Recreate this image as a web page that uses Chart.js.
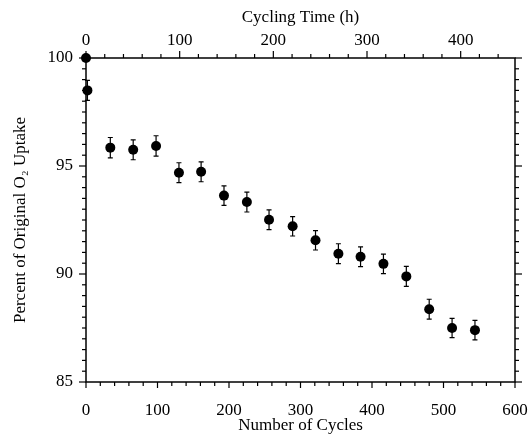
<!DOCTYPE html>
<html>
<head>
<meta charset="utf-8">
<script src="https://cdn.jsdelivr.net/npm/chart.js@4"></script>
<style>
  html, body { margin: 0; padding: 0; background: #fff; }
  #wrap { width: 531px; height: 437px; }
</style>
</head>
<body>
<div id="wrap"><canvas id="uptakeChart" width="531" height="437"></canvas></div>
<script>
// ==========================================
// O2 UPTAKE vs CYCLING (scatter + error bars)
// ==========================================

const cycles = [0, 2, 34, 66, 98, 130, 161, 193, 225, 256, 289, 321, 353, 384, 416, 448, 480, 512, 544];
const uptake = [100, 98.5, 95.85, 95.75, 95.93, 94.69, 94.73, 93.63, 93.33, 92.51, 92.21, 91.56, 90.94, 90.8, 90.47, 89.89, 88.37, 87.5, 87.4];
const uptakeErr = [0, 0.46, 0.47, 0.46, 0.47, 0.46, 0.46, 0.45, 0.46, 0.46, 0.45, 0.45, 0.46, 0.46, 0.45, 0.46, 0.46, 0.45, 0.45];

// axis ranges and tick steps
const cycleRange = [0, 600];
const hourRange = [0, 458];
const uptakeRange = [85, 100];
const cycleSteps = { major: 100, minor: 20 };
const hourSteps = { major: 100, minor: 20 };
const uptakeSteps = { major: 5, minor: 0.5 };

const FONT = 'Liberation Serif, Times New Roman, serif';

// minor + major tick marks, drawn outward on all four sides
const frameTicks = {
  id: 'frameTicks',
  afterDatasetsDraw(chart) {
    const { ctx, chartArea: a, scales } = chart;
    ctx.save();
    ctx.strokeStyle = '#000';
    ctx.lineWidth = 1.5;
    ctx.strokeRect(a.left, a.top, a.right - a.left, a.bottom - a.top);
    ctx.lineWidth = 1.2;

    const eps = 1e-6;
    function isMajor(v, step) {
      const r = Math.abs(v / step - Math.round(v / step));
      return r < eps;
    }
    // bottom axis (cycles)
    for (let v = cycleRange[0]; v <= cycleRange[1] + eps; v += cycleSteps.minor) {
      const x = scales.x.getPixelForValue(v);
      const len = isMajor(v, cycleSteps.major) ? 6 : 4;
      ctx.beginPath(); ctx.moveTo(x, a.bottom); ctx.lineTo(x, a.bottom + len); ctx.stroke();
    }
    // top axis (hours)
    for (let v = hourRange[0]; v <= hourRange[1] + eps; v += hourSteps.minor) {
      const x = scales.x2.getPixelForValue(v);
      const len = isMajor(v, hourSteps.major) ? 7 : 4;
      ctx.beginPath(); ctx.moveTo(x, a.top); ctx.lineTo(x, a.top - len); ctx.stroke();
    }
    // left and right axes (percent)
    for (let v = uptakeRange[0]; v <= uptakeRange[1] + eps; v += uptakeSteps.minor) {
      const y = scales.y.getPixelForValue(v);
      const len = isMajor(v, uptakeSteps.major) ? 7 : 4;
      ctx.beginPath(); ctx.moveTo(a.left, y); ctx.lineTo(a.left - len, y); ctx.stroke();
      ctx.beginPath(); ctx.moveTo(a.right, y); ctx.lineTo(a.right + len, y); ctx.stroke();
    }
    ctx.restore();
  },
};

// vertical error bars with small caps
const errorBars = {
  id: 'errorBars',
  beforeDatasetsDraw(chart) {
    const { ctx, scales } = chart;
    ctx.save();
    ctx.strokeStyle = '#000';
    ctx.lineWidth = 1.2;
    cycles.forEach(function (c, i) {
      const e = uptakeErr[i];
      if (!e) return;
      const x = scales.x.getPixelForValue(c);
      const yTop = scales.y.getPixelForValue(uptake[i] + e);
      const yBot = scales.y.getPixelForValue(uptake[i] - e);
      ctx.beginPath();
      ctx.moveTo(x, yTop); ctx.lineTo(x, yBot);
      ctx.moveTo(x - 2.5, yTop); ctx.lineTo(x + 2.5, yTop);
      ctx.moveTo(x - 2.5, yBot); ctx.lineTo(x + 2.5, yBot);
      ctx.stroke();
    });
    ctx.restore();
  },
};

const uptakeData = {
  datasets: [
    {
      label: 'Percent of Original O2 Uptake',
      data: cycles.map(function (c, i) { return { x: c, y: uptake[i] }; }),
      backgroundColor: '#000',
      borderColor: '#000',
      borderWidth: 0,
      pointRadius: 5,
      pointHoverRadius: 5,
      clip: false,
    },
  ],
};

const tickFont = { family: FONT, size: 17 };
const titleFont = { family: FONT, size: 17 };

// keep the layout from growing extra room for end labels
function noOverhang(scale) {
  scale.paddingLeft = 0;
  scale.paddingRight = 0;
  scale.paddingTop = 0;
  scale.paddingBottom = 0;
}

const uptakeConfig = {
  type: 'scatter',
  data: uptakeData,
  options: {
    responsive: false,
    animation: false,
    layout: { padding: { left: 0, right: 16, top: 0, bottom: 0 } },
    plugins: {
      legend: { display: false },
      tooltip: { enabled: false },
    },
    scales: {
      x: {
        type: 'linear',
        position: 'bottom',
        min: cycleRange[0],
        max: cycleRange[1],
        grid: { display: false, drawTicks: false },
        border: { display: false },
        ticks: { stepSize: cycleSteps.major, color: '#000', font: tickFont, padding: 18, maxRotation: 0 },
        title: { display: true, text: 'Number of Cycles', color: '#000', font: titleFont, padding: { top: 0, bottom: 1 } },
        afterFit: function (scale) { scale.height = 55; noOverhang(scale); },
      },
      x2: {
        type: 'linear',
        position: 'top',
        min: hourRange[0],
        max: hourRange[1],
        grid: { display: false, drawTicks: false },
        border: { display: false },
        ticks: { stepSize: hourSteps.major, color: '#000', font: tickFont, padding: 7, maxRotation: 0 },
        title: { display: true, text: 'Cycling Time (h)', color: '#000', font: titleFont, padding: { top: 7, bottom: 0 } },
        afterBuildTicks: function (scale) {
          scale.ticks = scale.ticks.filter(function (t) { return t.value % hourSteps.major === 0; });
        },
        afterFit: function (scale) { scale.height = 58; noOverhang(scale); },
      },
      y: {
        type: 'linear',
        position: 'left',
        min: uptakeRange[0],
        max: uptakeRange[1],
        grid: { display: false, drawTicks: false },
        border: { display: false },
        ticks: { stepSize: uptakeSteps.major, color: '#000', font: tickFont, padding: 13 },
        title: { display: true, text: 'Percent of Original O\u2082 Uptake', color: '#000', font: titleFont, padding: { top: 10, bottom: 0 } },
        afterFit: function (scale) { scale.width = 86; noOverhang(scale); },
      },
    },
  },
  plugins: [errorBars, frameTicks],
};

const uptakeChart = new Chart(
  document.getElementById('uptakeChart'),
  uptakeConfig
);
</script>
</body>
</html>
